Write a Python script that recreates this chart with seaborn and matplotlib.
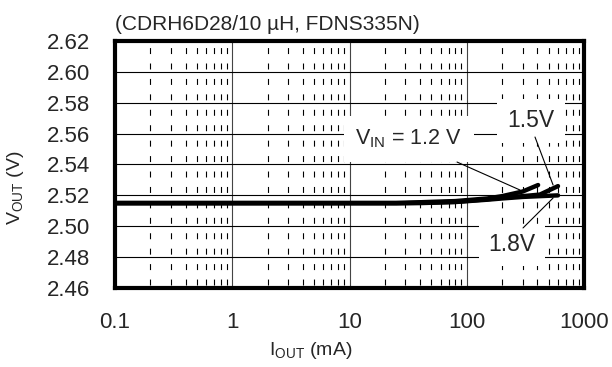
import numpy as np
import pandas as pd
import seaborn as sns
import matplotlib.pyplot as plt
from matplotlib.ticker import FixedLocator, NullFormatter

# data (I_OUT in mA, V_OUT in V)
iout_12 = [0.1, 1, 10, 25, 50, 80, 150, 200, 300, 406]
vout_12 = [2.515, 2.515, 2.515, 2.515, 2.5158, 2.5163, 2.518, 2.5195, 2.5225, 2.5267]
iout_15 = [0.1, 1, 10, 30, 80, 150, 200, 300, 420, 600]
vout_15 = [2.515, 2.515, 2.515, 2.515, 2.5158, 2.5175, 2.5185, 2.5195, 2.5205, 2.526]
iout_18 = [0.1, 1, 10, 40, 80, 150, 200, 300, 420, 600]
vout_18 = [2.515, 2.515, 2.515, 2.515, 2.5157, 2.5172, 2.518, 2.519, 2.5195, 2.520]

x_ticks = [0.1, 1, 10, 100, 1000]
x_ticklabels = ['0.1', '1', '10', '100', '1000']
y_ticks = [2.46, 2.48, 2.50, 2.52, 2.54, 2.56, 2.58, 2.60, 2.62]

df = pd.concat([
    pd.DataFrame({'iout': iout_12, 'vout': vout_12, 'vin': '1.2V'}),
    pd.DataFrame({'iout': iout_15, 'vout': vout_15, 'vin': '1.5V'}),
    pd.DataFrame({'iout': iout_18, 'vout': vout_18, 'vin': '1.8V'}),
])

sns.set_style('white')
plt.rcParams['font.family'] = ['Liberation Sans', 'DejaVu Sans']
plt.rcParams['mathtext.fontset'] = 'custom'
plt.rcParams['mathtext.rm'] = 'Liberation Sans'
plt.rcParams['lines.scale_dashes'] = False

fig = plt.figure(figsize=(6.12, 3.67), dpi=100)
fig.subplots_adjust(left=115/612, right=584/612, top=1-41/367, bottom=1-288/367)
ax = fig.add_subplot(111)

sns.lineplot(data=df, x='iout', y='vout', hue='vin', palette=['black']*3,
             lw=3.2, legend=False, estimator=None, sort=False, ax=ax, zorder=5)

ax.set_xscale('log')
ax.set_xlim(0.1, 1000)
ax.set_ylim(2.46, 2.62)
ax.xaxis.set_major_locator(FixedLocator(x_ticks))
ax.set_xticklabels(x_ticklabels)
minors = [d * m for d in [0.1, 1, 10, 100] for m in range(2, 10)]
ax.xaxis.set_minor_locator(FixedLocator(minors))
ax.xaxis.set_minor_formatter(NullFormatter())
ax.set_yticks(y_ticks)
ax.set_yticklabels([f'{v:.2f}' for v in y_ticks])
ax.tick_params(which='both', length=0, labelsize=16)
ax.tick_params(axis='y', pad=18)
ax.tick_params(axis='x', pad=17)

# grid
ax.grid(which='major', axis='y', color='black', lw=0.8)
ax.grid(which='major', axis='x', color='#444444', lw=0.8)
ax.grid(which='minor', axis='x', color='black', lw=0.8, linestyle=(8.96, (4.3, 6.81)))
ax.set_axisbelow(True)

for s in ax.spines.values():
    s.set_linewidth(3)
    s.set_color('black')

ax.set_xlabel('I$_{\\mathrm{OUT}}$ (mA)', fontsize=14)
ax.set_ylabel('V$_{\\mathrm{OUT}}$ (V)', fontsize=14)
ax.xaxis.set_label_coords(0.418, -0.21)
ax.yaxis.set_label_coords(-0.19, 0.405)
ax.set_title('(CDRH6D28/10 µH, FDNS335N)', loc='left', fontsize=15, pad=8)

# curve labels with white background
ax.text(32.1, 2.5565, 'V$_{\\mathrm{IN}}$ = 1.2 V', fontsize=15.5, ha='center', va='center',
        bbox=dict(boxstyle='square,pad=0.55', fc='white', ec='none'), zorder=3)
ax.text(353, 2.5682, '1.5V', fontsize=16.5, ha='center', va='center',
        bbox=dict(boxstyle='square,pad=0.45', fc='white', ec='none'), zorder=3)
ax.text(243, 2.4879, '1.8V', fontsize=16.5, ha='center', va='center',
        bbox=dict(boxstyle='square,pad=0.4', fc='white', ec='none'), zorder=3)

# leader lines
leader = dict(arrowstyle='-', color='black', lw=0.8, shrinkA=0, shrinkB=0)
ax.annotate('', xy=(284, 2.5235), xytext=(82.6, 2.5416), arrowprops=leader, zorder=4)
ax.annotate('', xy=(545, 2.5267), xytext=(382, 2.5578), arrowprops=leader, zorder=4)
ax.annotate('', xy=(545, 2.5183), xytext=(302, 2.4989), arrowprops=leader, zorder=4)

fig.savefig('out.png', dpi=100)
